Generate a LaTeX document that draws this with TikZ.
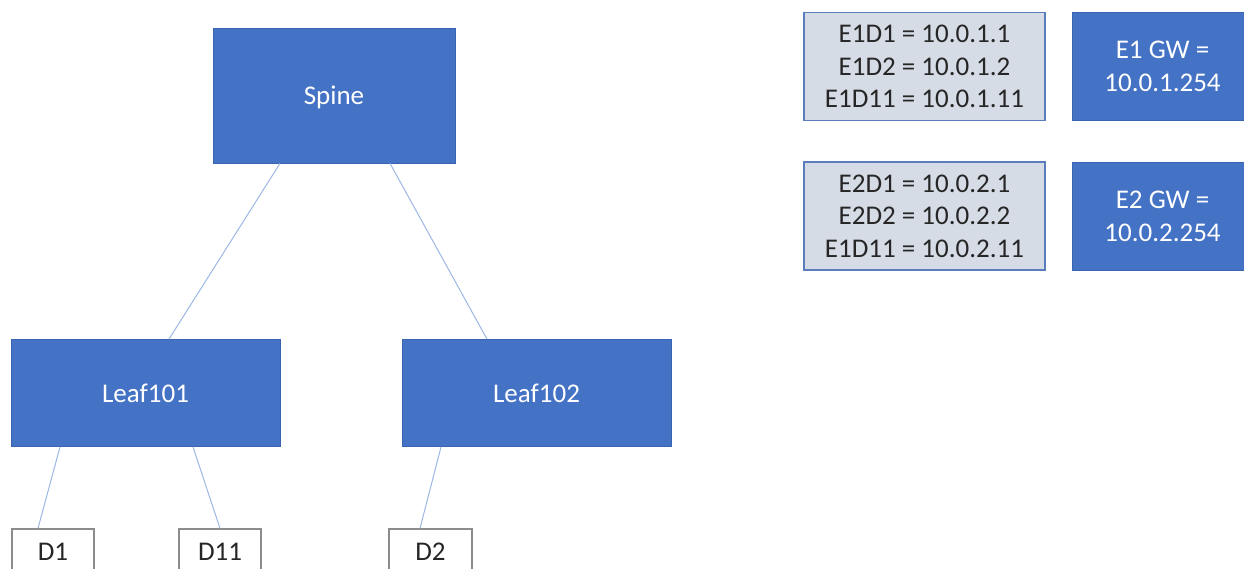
\documentclass[tikz,border=0pt]{standalone}
\usepackage{fontspec}
\setmainfont{Carlito}
\definecolor{boxblue}{HTML}{4472C4}
\definecolor{boxedge}{HTML}{3A64B0}
\definecolor{listfill}{HTML}{D6DCE5}
\definecolor{listedge}{HTML}{5B7DBE}
\definecolor{linkcol}{HTML}{9DB7E4}
\definecolor{devedge}{HTML}{8C8C8C}
\begin{document}
\begin{tikzpicture}[x=1pt,y=-1pt,
  bluebox/.style={draw=boxedge,line width=0.8pt,fill=boxblue,text=white,inner sep=0pt,
    font=\fontsize{27}{33}\selectfont,align=center},
  listbox/.style={draw=listedge,line width=1.2pt,fill=listfill,text=black!85,inner sep=0pt,
    font=\fontsize{27}{32.5}\selectfont,align=center,minimum width=241pt,minimum height=108pt},
  devbox/.style={draw=devedge,line width=1.2pt,fill=white,text=black!85,inner sep=0pt,
    font=\fontsize{27}{33}\selectfont,minimum height=46pt},
  link/.style={draw=linkcol,line width=1pt}]
\useasboundingbox (0,0) rectangle (1244,568);
\node[bluebox,minimum width=242pt,minimum height=135pt,text depth=0pt] (spine) at (334,95.5) {Spine};
\node[bluebox,minimum width=269pt,minimum height=107pt] (leafa) at (145.5,393) {Leaf101};
\node[bluebox,minimum width=269pt,minimum height=107pt] (leafb) at (536.5,393) {Leaf102};
\node[devbox,minimum width=82pt] (da) at (53,552) {D1};
\node[devbox,minimum width=82pt] (db) at (220,552) {D11};
\node[devbox,minimum width=83pt] (dc) at (430.5,552) {D2};
\node[listbox] (lista) at (924.5,66.5) {E1D1 = 10.0.1.1\\E1D2 = 10.0.1.2\\E1D11 = 10.0.1.11};
\node[listbox] (listb) at (924.5,216) {E2D1 = 10.0.2.1\\E2D2 = 10.0.2.2\\E1D11 = 10.0.2.11};
\node[bluebox,minimum width=181pt,minimum height=108pt] (gwa) at (1162.5,66.5) {E1 GW =\\10.0.1.254};
\node[bluebox,minimum width=181pt,minimum height=108pt] (gwb) at (1162.5,216) {E2 GW =\\10.0.2.254};
\draw[link] ([xshift=-54pt]spine.south) -- ([xshift=23.5pt]leafa.north);
\draw[link] ([xshift=56pt]spine.south) -- ([xshift=-49.5pt]leafb.north);
\draw[link] ([xshift=-85.5pt]leafa.south) -- ([xshift=-15pt]da.north);
\draw[link] ([xshift=47.5pt]leafa.south) -- ([xshift=0pt]db.north);
\draw[link] ([xshift=-95.5pt]leafb.south) -- ([xshift=-10.5pt]dc.north);
\end{tikzpicture}
\end{document}
